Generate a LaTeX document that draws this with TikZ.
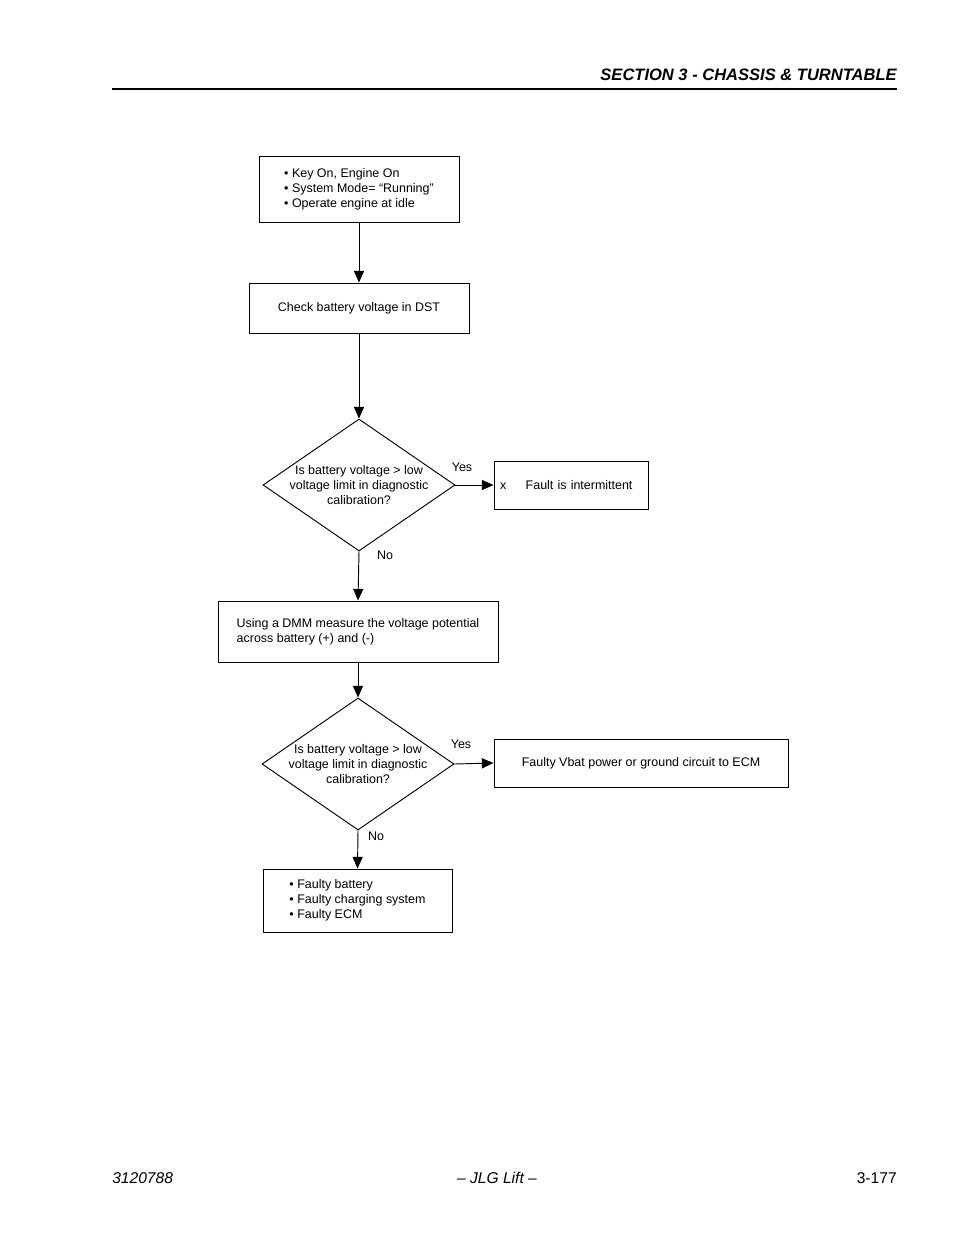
\documentclass[tikz,border=0pt]{standalone}
\usepackage{fontspec}
\setmainfont{Liberation Sans}
\usetikzlibrary{shapes.geometric,arrows.meta}
\newcommand\px[1]{#1*0.6415pt}
\begin{document}
\begin{tikzpicture}[x=0.6415pt,y=-0.6415pt,
 box/.style={draw,rectangle,line width=0.6pt,inner sep=0pt,font=\fontsize{8}{9.6}\selectfont},
 dia/.style={draw,diamond,line width=0.6pt,inner sep=0pt},
 txt/.style={font=\fontsize{8}{9.6}\selectfont,inner sep=0pt,align=center},
 arr/.style={line width=0.6pt,-{Triangle[length=7.5pt,width=6.5pt]}},
 lbl/.style={font=\fontsize{8}{9.6}\selectfont,inner sep=0pt}]
\useasboundingbox (0,0) rectangle (954,1235);
% header
\node[anchor=base east,inner sep=0pt,font=\fontsize{10.6}{13}\selectfont\bfseries\itshape] (hdr) at (897,80) {SECTION 3 - CHASSIS \& TURNTABLE};
\coordinate (rl) at (112,89);
\coordinate (rr) at (897,89);
\draw[line width=1pt] (rl) -- (rr);
% boxes
\node[box,minimum width=\px{200},minimum height=\px{66},align=left] (b1) at (359,189)
 {• Key On, Engine On\\• System Mode= “Running”\\• Operate engine at idle};
\node[box,minimum width=\px{220},minimum height=\px{50},align=center] (b2) at (359,308) {Check battery voltage in DST};
\node[dia,minimum width=\px{192},minimum height=\px{132}] (d1) at (359,485) {};
\node[txt] (t1) at (d1.center) {Is battery voltage > low\\voltage limit in diagnostic\\calibration?};
\node[box,minimum width=\px{154},minimum height=\px{48},text width=\px{142},align=left] (b3) at (571,485)
 {x\hspace{12.5pt}Fault is intermittent};
\node[box,minimum width=\px{280},minimum height=\px{61},align=left] (b4) at (358,631.5)
 {Using a DMM measure the voltage potential\\across battery (+) and (-)};
\node[dia,minimum width=\px{192},minimum height=\px{132}] (d2) at (358,764) {};
\node[txt] (t2) at (d2.center) {Is battery voltage > low\\voltage limit in diagnostic\\calibration?};
\node[box,minimum width=\px{294},minimum height=\px{48},align=center] (b5) at (641,763)
 {Faulty Vbat power or ground circuit to ECM};
\node[box,minimum width=\px{189},minimum height=\px{63},align=left] (b6) at (357.5,900.5)
 {• Faulty battery\\• Faulty charging system\\• Faulty ECM};
% connectors
\draw[arr] (b1) -- (b2);
\draw[arr] (b2) -- (d1);
\draw[arr] (d1.east) -- (b3.west);
\draw[arr] (d1.south) -- (b4.north);
\draw[arr] (b4) -- (d2);
\draw[arr] (d2.east) -- (b5.west);
\draw[arr] (d2.south) -- (b6.north);
% labels
\node[lbl] (y1) at (462,467) {Yes};
\node[lbl] (n1) at (385,555) {No};
\node[lbl] (y2) at (461,744) {Yes};
\node[lbl] (n2) at (376,836) {No};
% footer
\node[anchor=base west,inner sep=0pt,font=\fontsize{10}{12}\selectfont\itshape] (f1) at (112,1183) {3120788};
\node[anchor=base,inner sep=0pt,font=\fontsize{10}{12}\selectfont\itshape] (f2) at (497,1183) {– JLG Lift –};
\node[anchor=base east,inner sep=0pt,font=\fontsize{10}{12}\selectfont] (f3) at (897,1183) {3-177};
\end{tikzpicture}
\end{document}
